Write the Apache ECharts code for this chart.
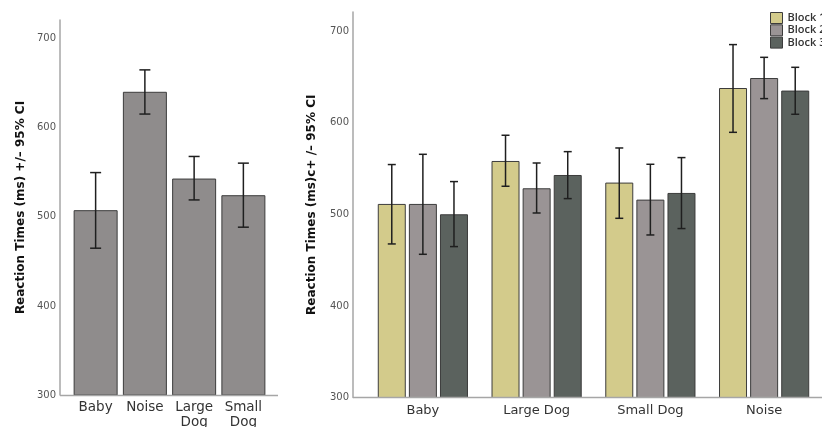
<!DOCTYPE html>
<html><head><meta charset="utf-8">
<script src="https://cdn.jsdelivr.net/npm/echarts@6/dist/echarts.min.js"></script>
<style>html,body{margin:0;padding:0;background:#fff}#c{width:822px;height:427px}</style>
</head><body><div id="c"></div>
<script>
// ---- data ----
const leftCategories = ['Baby', 'Noise', 'Large\nDog', 'Small\nDog'];
const leftMeans = [507.5, 640.4, 543.0, 524.3];
const leftLow   = [464.8, 615.4, 519.0, 488.4];
const leftHigh  = [549.7, 665.0, 567.8, 560.3];

const rightCategories = ['Baby', 'Large Dog', 'Small Dog', 'Noise'];
const blockNames = ['Block 1', 'Block 2', 'Block 3'];
const block1Means = [511.4, 558.3, 534.7, 638.0];
const block2Means = [511.4, 528.5, 516.1, 648.9];
const block3Means = [500.1, 543.0, 523.4, 635.2];
const block1Low  = [467.7, 530.7, 495.7, 589.6];
const block1High = [554.4, 586.4, 572.5, 685.4];
const block2Low  = [456.4, 501.5, 477.5, 626.4];
const block2High = [565.6, 556.1, 554.7, 671.5];
const block3Low  = [464.8, 517.2, 484.5, 609.3];
const block3High = [535.8, 568.5, 562.0, 660.6];

const yTickLabels = [300, 400, 500, 600, 700];
const yMin = 300, yMax = 721;
const leftTitle = 'Reaction Times (ms) +/\u2013 95% CI';
const rightTitle = 'Reaction Times (ms)c+ /\u2013 95% CI';

// ---- styles ----
const FONT = 'DejaVu Sans';
const axisGray = '#a6a6a6';
const leftColor = '#8f8c8c';
const blockColors = ['#d3cb8b', '#9a9495', '#5b625e'];
const edge = '#3c3c3c';
const RBAR = 28, RGAP = 3.1;

function errRenderer(offsetPx, capHalf) {
  return function (params, api) {
    const c = api.value(0);
    const lo = api.coord([c, api.value(1)]);
    const hi = api.coord([c, api.value(2)]);
    const x = lo[0] + offsetPx;
    const st = { stroke: '#1f1f1f', lineWidth: 1.5 };
    return { type: 'group', children: [
      { type: 'line', shape: { x1: x, y1: hi[1], x2: x, y2: lo[1] }, style: st },
      { type: 'line', shape: { x1: x - capHalf, y1: hi[1], x2: x + capHalf, y2: hi[1] }, style: st },
      { type: 'line', shape: { x1: x - capHalf, y1: lo[1], x2: x + capHalf, y2: lo[1] }, style: st }
    ]};
  };
}

function yAxisCfg(gridIndex, name, offset, nameGap) {
  return {
    type: 'value', gridIndex, min: yMin, max: yMax, interval: 100, offset,
    name, nameLocation: 'middle', nameGap,
    nameTextStyle: { fontFamily: FONT, fontWeight: 'bold', fontSize: 12, color: '#111' },
    axisLine: { show: true, lineStyle: { color: axisGray, width: 1.5 } },
    axisTick: { show: false },
    splitLine: { show: false },
    axisLabel: {
      fontFamily: FONT, fontSize: 10, color: '#555', margin: 4, showMaxLabel: false,
      formatter: v => (yTickLabels.indexOf(v) >= 0 ? String(v) : '')
    }
  };
}

const blocksMeans = [block1Means, block2Means, block3Means];
const blocksLow = [block1Low, block2Low, block3Low];
const blocksHigh = [block1High, block2High, block3High];

const series = [
  {
    type: 'bar', xAxisIndex: 0, yAxisIndex: 0, data: leftMeans, barWidth: 44,
    itemStyle: { color: leftColor, borderColor: edge, borderWidth: 1 }, silent: true
  },
  {
    type: 'custom', xAxisIndex: 0, yAxisIndex: 0,
    data: leftCategories.map((_, i) => [i, leftLow[i], leftHigh[i]]),
    encode: { x: 0, y: [1, 2] }, renderItem: errRenderer(0, 5.5), z: 5, silent: true
  }
];
blockNames.forEach((nm, b) => {
  series.push({
    type: 'bar', name: nm, xAxisIndex: 1, yAxisIndex: 1, data: blocksMeans[b],
    barWidth: RBAR, barGap: (RGAP / RBAR * 100).toFixed(1) + '%',
    itemStyle: { color: blockColors[b], borderColor: edge, borderWidth: 1 }, silent: true
  });
});
blockNames.forEach((nm, b) => {
  series.push({
    type: 'custom', xAxisIndex: 1, yAxisIndex: 1,
    data: rightCategories.map((_, i) => [i, blocksLow[b][i], blocksHigh[b][i]]),
    encode: { x: 0, y: [1, 2] }, renderItem: errRenderer((b - 1) * (RBAR + RGAP), 4), z: 5, silent: true
  });
});

const chart = echarts.init(document.getElementById('c'), null, { renderer: 'canvas' });
chart.setOption({
  animation: false,
  backgroundColor: '#fff',
  grid: [
    { left: 71, width: 197, top: 20, height: 375, containLabel: false, outerBoundsMode: 'none' },
    { left: 366, width: 455, top: 12, height: 385.5, containLabel: false, outerBoundsMode: 'none' }
  ],
  xAxis: [
    {
      type: 'category', gridIndex: 0, data: leftCategories,
      axisLine: { show: false }, axisTick: { show: false },
      axisLabel: { fontFamily: FONT, fontSize: 13.5, color: '#333', margin: 5, lineHeight: 15, interval: 0 }
    },
    {
      type: 'category', gridIndex: 1, data: rightCategories,
      axisLine: { show: false }, axisTick: { show: false },
      axisLabel: { fontFamily: FONT, fontSize: 13, color: '#333', margin: 7, interval: 0 }
    }
  ],
  yAxis: [
    yAxisCfg(0, leftTitle, 11, 33),
    yAxisCfg(1, rightTitle, 13, 35)
  ],
  legend: {
    data: blockNames, orient: 'vertical', left: 770, top: 12, padding: 0, width: 120,
    itemWidth: 12, itemHeight: 11, itemGap: 0.3, icon: 'rect',
    textStyle: { fontFamily: 'Open Sans', fontSize: 11, color: '#333', fontWeight: 600, lineHeight: 11,
                 overflow: 'none', width: 80 },
    itemStyle: { borderColor: edge, borderWidth: 1 }
  },
  graphic: [
    { type: 'line', shape: { x1: 60, y1: 395.5, x2: 278, y2: 395.5 }, style: { stroke: axisGray, lineWidth: 1.5 }, z: 10 },
    { type: 'line', shape: { x1: 353, y1: 397.5, x2: 822, y2: 397.5 }, style: { stroke: axisGray, lineWidth: 1.5 }, z: 10 }
  ],
  series
});
</script>
</body></html>
